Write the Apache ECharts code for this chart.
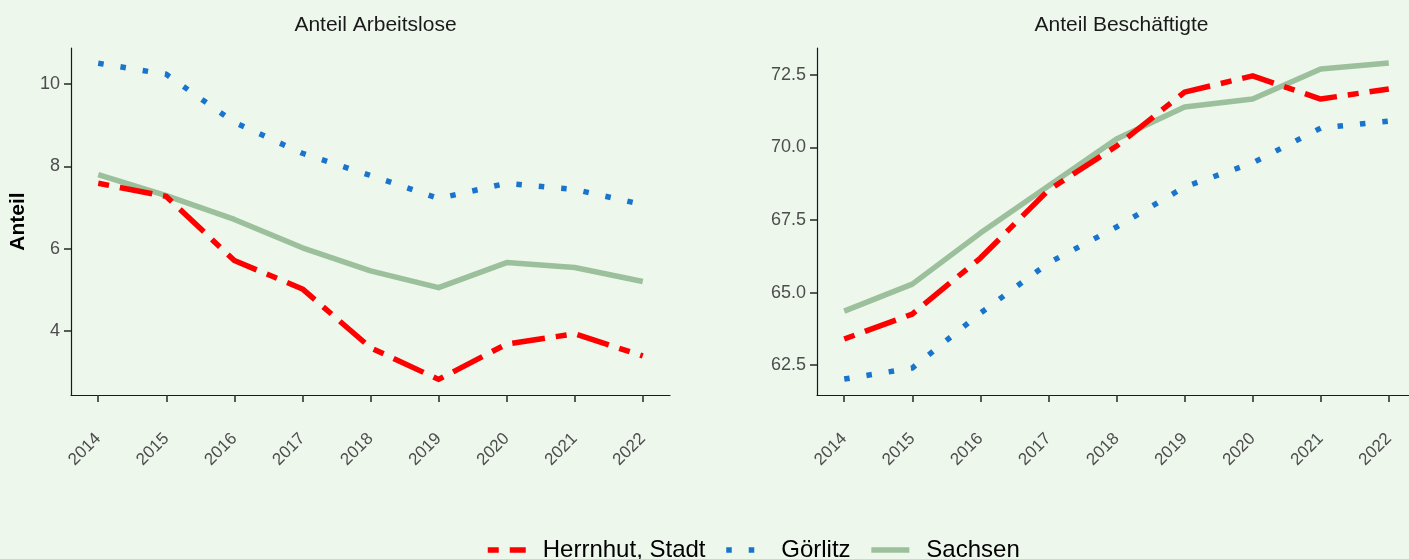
<!DOCTYPE html>
<html>
<head>
<meta charset="utf-8">
<script src="https://cdn.jsdelivr.net/npm/echarts@6/dist/echarts.min.js"></script>
<style>
  html, body { margin: 0; padding: 0; background: #EDF7EC; }
  #chart { width: 1409px; height: 559px; }
</style>
</head>
<body>
<div id="chart"></div>
<script>
const years = [2014, 2015, 2016, 2017, 2018, 2019, 2020, 2021, 2022]

// Anteil Arbeitslose
const alHerrnhut = [7.59, 7.27, 5.71, 5.02, 3.59, 2.82, 3.68, 3.93, 3.39]
const alGoerlitz = [10.51, 10.24, 9.07, 8.32, 7.78, 7.22, 7.59, 7.44, 7.07]
const alSachsen = [7.80, 7.29, 6.71, 6.02, 5.46, 5.05, 5.66, 5.54, 5.20]

// Anteil Beschäftigte
const beHerrnhut = [63.40, 64.26, 66.19, 68.53, 70.05, 71.91, 72.47, 71.67, 72.02]
const beGoerlitz = [62.02, 62.40, 64.29, 66.02, 67.26, 68.64, 69.47, 70.67, 70.91]
const beSachsen = [64.36, 65.29, 67.05, 68.67, 70.29, 71.40, 71.67, 72.71, 72.91]

const alTicks = [4, 6, 8, 10]
const beTicks = [62.5, 65, 67.5, 70, 72.5]

const panelTitles = ['Anteil Arbeitslose', 'Anteil Beschäftigte']
const seriesNames = ['Herrnhut, Stadt', 'Görlitz', 'Sachsen']

const FONT = 'Liberation Sans, Arial, sans-serif'
const colors = ['#FF0000', '#1874CD', '#9CC09C']
const dashes = [[11, 11, 33, 11], [5.5, 17], 'solid']

const pair = (vals) => years.map((y, i) => [y, vals[i]])

const xAxisBase = (gridIndex) => ({
  type: 'value',
  gridIndex,
  min: 2013.6,
  max: 2022.4,
  splitLine: { show: false },
  axisLine: { lineStyle: { color: '#1a1a1a', width: 1.2 } },
  axisTick: { customValues: years, length: 7, lineStyle: { color: '#333', width: 1.6 } },
  axisLabel: {
    customValues: years,
    rotate: 45,
    margin: 41,
    color: '#4D4D4D',
    fontSize: 17,
    fontFamily: FONT,
    formatter: (v) => String(v)
  }
})

const yAxisBase = (gridIndex, min, max, ticks, fmt) => ({
  type: 'value',
  gridIndex,
  min,
  max,
  splitLine: { show: false },
  axisLine: { show: true, lineStyle: { color: '#1a1a1a', width: 1.2 } },
  axisTick: { show: true, customValues: ticks, length: 7, lineStyle: { color: '#333', width: 1.6 } },
  axisLabel: {
    customValues: ticks,
    margin: 11,
    color: '#4D4D4D',
    fontSize: 18,
    fontFamily: FONT,
    formatter: fmt
  }
})

const panels = [
  [alHerrnhut, alGoerlitz, alSachsen],
  [beHerrnhut, beGoerlitz, beSachsen]
]

const series = []
panels.forEach((panel, p) => {
  panel.forEach((vals, s) => {
    series.push({
      name: seriesNames[s],
      type: 'line',
      xAxisIndex: p,
      yAxisIndex: p,
      data: pair(vals),
      symbol: 'none',
      z: 3 - s,
      color: colors[s],
      lineStyle: { color: colors[s], width: 5.5, type: dashes[s], join: 'round' }
    })
  })
})

const chart = echarts.init(document.getElementById('chart'))

const yLeft = yAxisBase(0, 2.44, 10.88, alTicks, (v) => String(v))
yLeft.name = 'Anteil'
yLeft.nameLocation = 'middle'
yLeft.nameGap = 42
yLeft.nameTextStyle = { fontSize: 21, fontWeight: 'bold', color: '#000', fontFamily: FONT }

chart.setOption({
  backgroundColor: '#EDF7EC',
  animation: false,
  title: [
    { text: panelTitles[0], left: 370.5, top: 10, textAlign: 'center',
      textStyle: { fontSize: 21, fontWeight: 'normal', color: '#1a1a1a', fontFamily: FONT } },
    { text: panelTitles[1], left: 1116.5, top: 10, textAlign: 'center',
      textStyle: { fontSize: 21, fontWeight: 'normal', color: '#1a1a1a', fontFamily: FONT } }
  ],
  grid: [
    { left: 71, top: 48, width: 599, height: 347, outerBoundsMode: 'none' },
    { left: 817, top: 48, width: 599, height: 347, outerBoundsMode: 'none' }
  ],
  xAxis: [xAxisBase(0), xAxisBase(1)],
  yAxis: [
    yLeft,
    yAxisBase(1, 61.47, 73.43, beTicks, (v) => v.toFixed(1))
  ],
  legend: {
    data: seriesNames,
    left: 480,
    top: 533,
    itemWidth: 38,
    itemHeight: 14,
    itemGap: 18,
    itemStyle: { opacity: 0 },
    lineStyle: { width: 5.5 },
    textStyle: { fontSize: 24, color: '#000', fontFamily: FONT, padding: [0, 0, 0, 12] }
  },
  series
})
</script>
</body>
</html>
